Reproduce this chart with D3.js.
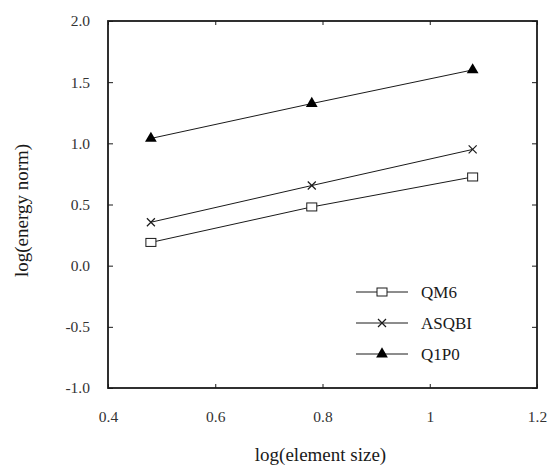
<!DOCTYPE html>
<html><head><meta charset="utf-8">
<script src="https://cdn.jsdelivr.net/npm/d3@7"></script>
<style>
body{margin:0;background:#fff}
svg, svg text, .ser{font-family:"Liberation Serif", "Times New Roman", Tinos, serif}
</style>
</head><body>
<svg id="c" width="553" height="469" font-family="Liberation Serif, serif"></svg>
<script>
const xValues = [0.48, 0.78, 1.08];
const qm6 = [0.19, 0.48, 0.725];
const asqbi = [0.355, 0.655, 0.95];
const q1p0 = [1.04, 1.325, 1.60];
const seriesNames = ["QM6", "ASQBI", "Q1P0"];
const seriesMarkers = ["square", "cross", "triangle"];
const xTicks = [0.4, 0.6, 0.8, 1.0, 1.2];
const xTickLabels = ["0.4", "0.6", "0.8", "1", "1.2"];
const yTicks = [-1.0, -0.5, 0.0, 0.5, 1.0, 1.5, 2.0];
const yTickLabels = ["-1.0", "-0.5", "0.0", "0.5", "1.0", "1.5", "2.0"];
const xTitle = "log(element size)";
const yTitle = "log(energy norm)";

const seriesValues = [qm6, asqbi, q1p0];
const svg = d3.select("#c");
const L = 108, R = 537, T = 21, B = 388;
const x = d3.scaleLinear().domain([0.4, 1.2]).range([L, R]);
const y = d3.scaleLinear().domain([-1, 2]).range([B, T]);
const ink = "#1a1a1a";
const FF = "Liberation Serif";

function txt(sel, size) {
  return sel.attr("class", "ser").attr("font-family", FF).style("font-family", '"Liberation Serif", serif').style("font-size", size + "px");
}

// frame
svg.append("rect").attr("x", L).attr("y", T).attr("width", R - L).attr("height", B - T)
  .attr("fill", "none").attr("stroke", ink).attr("stroke-width", 1.8);

// inward ticks on all four sides
const gl = svg.append("g").attr("transform", `translate(${L},0)`)
  .call(d3.axisRight(y).tickValues(yTicks).tickSize(5).tickFormat(""));
const gr = svg.append("g").attr("transform", `translate(${R},0)`)
  .call(d3.axisLeft(y).tickValues(yTicks).tickSize(5).tickFormat(""));
const gt = svg.append("g").attr("transform", `translate(0,${T})`)
  .call(d3.axisBottom(x).tickValues(xTicks).tickSize(4).tickFormat(""));
const gb = svg.append("g").attr("transform", `translate(0,${B})`)
  .call(d3.axisTop(x).tickValues(xTicks).tickSize(4).tickFormat(""));
[gl, gr, gt, gb].forEach(g => { g.select(".domain").remove(); g.selectAll("line").attr("stroke", ink).attr("stroke-width", 1); g.selectAll("text").remove(); });

// tick labels
const yl = svg.append("g").attr("transform", `translate(${L},0)`)
  .call(d3.axisLeft(y).tickValues(yTicks).tickSize(0).tickPadding(18).tickFormat((d, i) => yTickLabels[i]));
yl.attr("font-family", FF);
yl.select(".domain").remove();
txt(yl.selectAll("text"), 15.5).attr("fill", "#333");
const xl = svg.append("g").attr("transform", `translate(0,${B})`)
  .call(d3.axisBottom(x).tickValues(xTicks).tickSize(0).tickPadding(23).tickFormat((d, i) => xTickLabels[i]));
xl.attr("font-family", FF);
xl.select(".domain").remove();
txt(xl.selectAll("text"), 15.5).attr("fill", "#333");

// titles
txt(svg.append("text"), 19).attr("x", (L + R) / 2 - 2).attr("y", 461).attr("text-anchor", "middle")
  .attr("fill", ink).text(xTitle);
txt(svg.append("text"), 19).attr("transform", `translate(28,${(T + B) / 2 + 6}) rotate(-90)`).attr("text-anchor", "middle")
  .attr("fill", ink).text(yTitle);

function marker(g, type, cx, cy) {
  if (type === "square") {
    g.append("rect").attr("x", cx - 5).attr("y", cy - 4).attr("width", 10).attr("height", 8)
      .attr("fill", "#fff").attr("stroke", ink).attr("stroke-width", 1);
  } else if (type === "cross") {
    g.append("path").attr("d", `M${cx-4},${cy-4}L${cx+4},${cy+4}M${cx-4},${cy+4}L${cx+4},${cy-4}`)
      .attr("stroke", ink).attr("stroke-width", 1.2);
  } else {
    g.append("path").attr("d", d3.symbol().type(d3.symbolTriangle).size(60)())
      .attr("transform", `translate(${cx},${cy})`).attr("fill", "#000");
  }
}

const line = d3.line().x(d => x(d[0])).y(d => y(d[1]));
seriesValues.forEach((vals, si) => {
  const pts = xValues.map((xv, i) => [xv, vals[i]]);
  const g = svg.append("g");
  g.append("path").attr("d", line(pts)).attr("fill", "none").attr("stroke", ink).attr("stroke-width", 1);
  pts.forEach(p => marker(g, seriesMarkers[si], x(p[0]), y(p[1])));
});

// legend
const legY = [292, 323, 354];
seriesNames.forEach((name, i) => {
  const g = svg.append("g");
  g.append("line").attr("x1", 356).attr("x2", 408).attr("y1", legY[i]).attr("y2", legY[i])
    .attr("stroke", ink).attr("stroke-width", 1);
  marker(g, seriesMarkers[i], 382, legY[i]);
  txt(g.append("text"), 17).attr("x", 421).attr("y", legY[i] + 6).attr("fill", ink).text(name);
});
</script>
</body></html>
